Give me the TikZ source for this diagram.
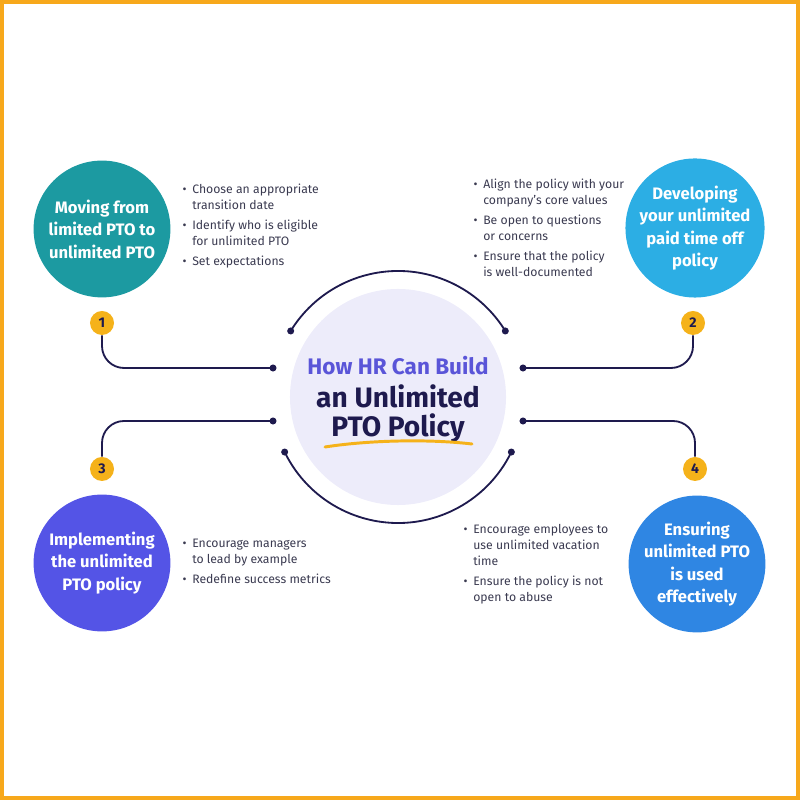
\documentclass[tikz,border=0pt]{standalone}
\usepackage{fontspec}
\setmainfont{Fira Sans}
\definecolor{navy}{HTML}{1E1A4E}
\definecolor{frameorange}{HTML}{F7A81B}
\definecolor{badgeyellow}{HTML}{F5B21A}
\definecolor{teal}{HTML}{1C9AA1}
\definecolor{skyblue}{HTML}{2CAEE4}
\definecolor{indigo}{HTML}{5454E6}
\definecolor{midblue}{HTML}{2F86E3}
\definecolor{lavender}{HTML}{EDECFA}
\definecolor{titlepurple}{HTML}{5A55D8}
\definecolor{bodygray}{HTML}{3A3A50}
\newcommand{\itm}{\makebox[0pt][r]{\textbullet\hspace{4pt}}}
\begin{document}
\begin{tikzpicture}[
    x=0.025cm, y=0.025cm,
    topic/.style={circle, minimum size=3.42cm, inner sep=0pt, text=white,
                  align=center, font=\bfseries\fontsize{11.8}{16}\selectfont},
    badge/.style={circle, fill=badgeyellow, minimum size=0.6cm, inner sep=0pt,
                  text=navy, font=\bfseries\fontsize{10}{10}\selectfont},
    dot/.style={circle, fill=navy, minimum size=5pt, inner sep=0pt},
    conn/.style={navy, line width=1.3pt},
    bullets/.style={anchor=west, inner sep=0pt, align=left, text=bodygray,
                    font=\fontsize{8.7}{11.5}\selectfont},
]
\useasboundingbox (0,0) rectangle (800,800);
\draw[frameorange, line width=0.1cm] (2,2) rectangle (798,798);

% centre
\coordinate (cc) at (398,403);
\node[circle, fill=lavender, minimum size=5.4cm, inner sep=0pt] (hub) at (cc) {};
\node[anchor=base, text=titlepurple, font=\bfseries\fontsize{16}{16}\selectfont]
  (title1) at (398,425) {How HR Can Build};
\node[anchor=base, text=navy, font=\bfseries\fontsize{20}{20}\selectfont]
  (title2) at (398,392) {an Unlimited};
\node[anchor=base, text=navy, font=\bfseries\fontsize{20}{20}\selectfont]
  (title3) at (398,363) {PTO Policy};
\draw[badgeyellow, line width=2.1pt, line cap=round]
  (325,353) .. controls (370,360) and (430,361) .. (472,356);

% arcs round the hub
\node[dot] (a1) at ([shift={(148.4:126)}]cc) {};
\node[dot] (a2) at ([shift={(31.6:126)}]cc) {};
\node[dot] (a3) at ([shift={(205.9:126)}]cc) {};
\node[dot] (a4) at ([shift={(334.1:126)}]cc) {};
\draw[conn] (a1.center) arc[start angle=148.4, end angle=31.6, radius=126];
\draw[conn] (a3.center) arc[start angle=205.9, end angle=334.1, radius=126];

% topics
\node[topic, fill=teal] (t1) at (102,571) {Moving from\\limited PTO to\\unlimited PTO};
\node[topic, fill=skyblue] (t2) at (695,572) {Developing\\your unlimited\\paid time off\\policy};
\node[topic, fill=indigo] (t3) at (102,237) {Implementing\\the unlimited\\PTO policy};
\node[topic, fill=midblue] (t4) at (697,236) {Ensuring\\unlimited PTO\\is used\\effectively};

% numbered badges and their leads
\node[badge] (b1) at (102,477) {1};
\node[badge] (b2) at (693,477) {2};
\node[badge] (b3) at (102,331) {3};
\node[badge] (b4) at (695,331) {4};
\node[dot] (d1) at (273,432) {};
\node[dot] (d2) at (523,432) {};
\node[dot] (d3) at (273,379) {};
\node[dot] (d4) at (523,379) {};
\draw[conn, rounded corners=0.55cm] (b1.south) |- (d1.center);
\draw[conn, rounded corners=0.55cm] (b2.south) |- (d2.center);
\draw[conn, rounded corners=0.55cm] (b3.north) |- (d3.center);
\draw[conn, rounded corners=0.55cm] (b4.north) |- (d4.center);

% bullet lists
\node[bullets] (l1) at (192,574) {\itm Choose an appropriate\\ transition date\\[2.5pt]
  \itm Identify who is eligible\\ for unlimited PTO\\[2.5pt] \itm Set expectations};
\node[bullets] (l2) at (483,572) {\itm Align the policy with your\\ company's core values\\[2.5pt]
  \itm Be open to questions\\ or concerns\\[2.5pt] \itm Ensure that the policy\\ is well-documented};
\node[bullets] (l3) at (192,239) {\itm Encourage managers\\ to lead by example\\[2.5pt]
  \itm Redefine success metrics};
\node[bullets] (l4) at (473,236) {\itm Encourage employees to\\ use unlimited vacation\\ time\\[2.5pt]
  \itm Ensure the policy is not\\ open to abuse};
\end{tikzpicture}
\end{document}
